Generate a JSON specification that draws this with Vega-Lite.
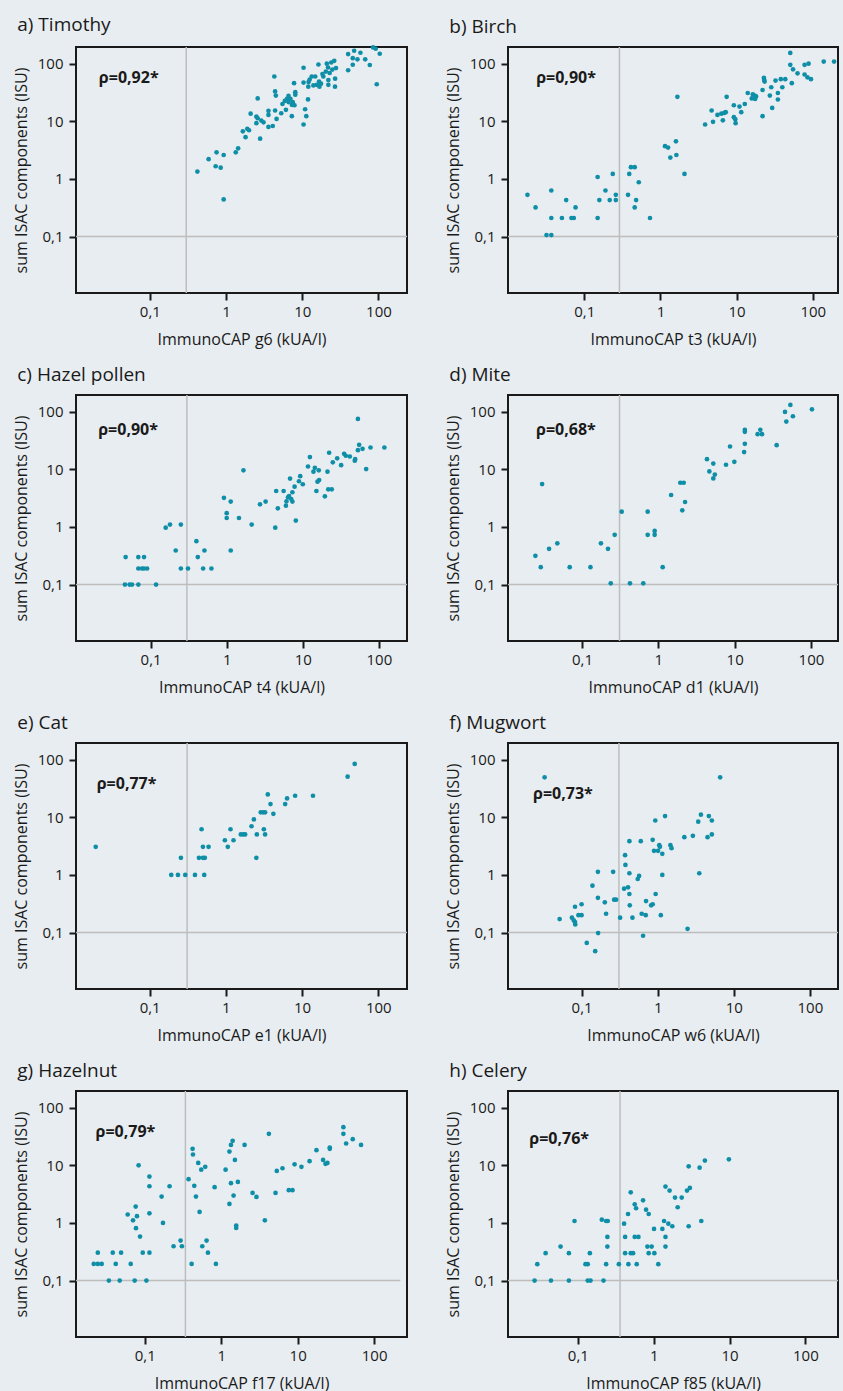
{
  "$schema": "https://vega.github.io/schema/vega-lite/v6.json",
  "background": "#e8edf1",
  "padding": {"left": 12, "top": 15, "right": 5, "bottom": 5},
  "columns": 2,
  "spacing": {"column": 35, "row": 16},
  "config": {
    "font": "Open Sans",
    "view": {"stroke": "#1a1a1a", "strokeWidth": 2, "fill": null},
    "axis": {
      "grid": false, "domain": false, "tickColor": "#1a1a1a", "tickSize": 7, "tickWidth": 2,
      "labelFont": "Open Sans", "labelFontSize": 15, "labelColor": "#1a1a1a",
      "titleFont": "Open Sans", "titleFontSize": 16, "titleFontWeight": "normal", "titleColor": "#1a1a1a",
      "labelOverlap": false, "labelFlush": false
    },
    "axisX": {"labelPadding": 4, "titlePadding": 12},
    "axisY": {"labelPadding": 6, "titlePadding": 8},
    "title": {"anchor": "start", "frame": "bounds", "fontSize": 19, "fontWeight": "normal", "color": "#1a1a1a", "baseline": "alphabetic", "offset": 9.7, "dx": 4, "font": "Open Sans"},
    "circle": {"color": "#0e8fa7", "opacity": 1, "size": 22},
    "rule": {"color": "#bdbdbd", "strokeWidth": 1.5},
    "text": {"font": "Open Sans", "fontSize": 16, "fontWeight": "bold", "color": "#1a1a1a", "align": "left", "baseline": "middle"}
  },
  "datasets": {
    "a": [{"cap":0.42,"isac":1.34},{"cap":0.59,"isac":2.2},{"cap":0.75,"isac":2.9},{"cap":0.73,"isac":1.66},{"cap":0.85,"isac":1.57},{"cap":0.93,"isac":2.6},{"cap":0.93,"isac":0.44},{"cap":1.34,"isac":2.9},{"cap":1.44,"isac":3.4},{"cap":1.66,"isac":6.7},{"cap":1.8,"isac":5.3},{"cap":1.9,"isac":7.4},{"cap":2.0,"isac":7.0},{"cap":2.1,"isac":13.6},{"cap":2.5,"isac":9.3},{"cap":2.5,"isac":12.1},{"cap":2.6,"isac":25},{"cap":2.6,"isac":11.3},{"cap":2.8,"isac":5.0},{"cap":2.9,"isac":10.3},{"cap":3.1,"isac":9.6},{"cap":3.6,"isac":15.2},{"cap":3.6,"isac":12.9},{"cap":3.6,"isac":8.0},{"cap":4.1,"isac":8.3},{"cap":4.3,"isac":60},{"cap":4.4,"isac":33},{"cap":4.5,"isac":28},{"cap":4.4,"isac":15.4},{"cap":4.6,"isac":11},{"cap":5.3,"isac":13.8},{"cap":5.5,"isac":20},{"cap":5.9,"isac":22.6},{"cap":6.3,"isac":24.5},{"cap":6.6,"isac":27.6},{"cap":6.6,"isac":21.6},{"cap":6.1,"isac":15.8},{"cap":7.0,"isac":24.5},{"cap":7.3,"isac":19.3},{"cap":7.3,"isac":12.3},{"cap":7.5,"isac":21.5},{"cap":7.8,"isac":46},{"cap":8.1,"isac":32},{"cap":8.1,"isac":29},{"cap":7.9,"isac":19},{"cap":10.4,"isac":85},{"cap":10.4,"isac":47},{"cap":10.4,"isac":8.8},{"cap":10.9,"isac":16.2},{"cap":11.3,"isac":12.3},{"cap":11.9,"isac":24},{"cap":12,"isac":40},{"cap":12.1,"isac":48},{"cap":12.5,"isac":53},{"cap":13.3,"isac":60},{"cap":14,"isac":42},{"cap":14.8,"isac":60},{"cap":15.5,"isac":43},{"cap":16.3,"isac":97},{"cap":16.6,"isac":49},{"cap":16.8,"isac":40},{"cap":17.6,"isac":45},{"cap":18.4,"isac":66},{"cap":18.9,"isac":60},{"cap":20.4,"isac":73},{"cap":21,"isac":100},{"cap":21.8,"isac":86},{"cap":22,"isac":52},{"cap":22,"isac":43},{"cap":22.9,"isac":69},{"cap":24,"isac":105},{"cap":24.8,"isac":79},{"cap":26.3,"isac":112},{"cap":26.9,"isac":40},{"cap":27,"isac":55},{"cap":27.7,"isac":84},{"cap":40,"isac":77},{"cap":40,"isac":147},{"cap":46,"isac":125},{"cap":48,"isac":168},{"cap":46,"isac":96},{"cap":53,"isac":119},{"cap":58,"isac":155},{"cap":67,"isac":119},{"cap":77,"isac":95},{"cap":85,"isac":192},{"cap":92,"isac":182},{"cap":95,"isac":44},{"cap":104,"isac":149}],
    "b": [{"cap":0.018,"isac":0.53},{"cap":0.023,"isac":0.32},{"cap":0.032,"isac":0.106},{"cap":0.037,"isac":0.106},{"cap":0.037,"isac":0.63},{"cap":0.037,"isac":0.21},{"cap":0.051,"isac":0.21},{"cap":0.058,"isac":0.43},{"cap":0.068,"isac":0.21},{"cap":0.073,"isac":0.21},{"cap":0.077,"isac":0.32},{"cap":0.15,"isac":1.08},{"cap":0.15,"isac":0.21},{"cap":0.158,"isac":0.43},{"cap":0.19,"isac":0.63},{"cap":0.216,"isac":0.43},{"cap":0.237,"isac":1.22},{"cap":0.26,"isac":0.53},{"cap":0.26,"isac":0.43},{"cap":0.376,"isac":0.53},{"cap":0.39,"isac":1.22},{"cap":0.41,"isac":1.6},{"cap":0.46,"isac":1.6},{"cap":0.46,"isac":0.32},{"cap":0.48,"isac":0.43},{"cap":0.52,"isac":0.875},{"cap":0.73,"isac":0.21},{"cap":1.15,"isac":3.7},{"cap":1.26,"isac":3.5},{"cap":1.35,"isac":2.35},{"cap":1.6,"isac":4.5},{"cap":1.62,"isac":2.6},{"cap":1.67,"isac":26.6},{"cap":2.07,"isac":1.22},{"cap":3.86,"isac":8.8},{"cap":4.7,"isac":15.4},{"cap":4.9,"isac":9.8},{"cap":5.6,"isac":12.9},{"cap":6.3,"isac":13.6},{"cap":6.6,"isac":10.4},{"cap":6.9,"isac":14},{"cap":7.2,"isac":14.4},{"cap":7.4,"isac":26.6},{"cap":9.2,"isac":19},{"cap":9.2,"isac":11.8},{"cap":9.6,"isac":10.9},{"cap":9.7,"isac":9.3},{"cap":10.9,"isac":18},{"cap":11.5,"isac":14.4},{"cap":12.8,"isac":20},{"cap":14,"isac":31},{"cap":15.8,"isac":25},{"cap":16.3,"isac":29.5},{"cap":17.2,"isac":28},{"cap":17.5,"isac":24.5},{"cap":18,"isac":27},{"cap":21.9,"isac":35},{"cap":21.9,"isac":12.3},{"cap":22.8,"isac":57},{"cap":23,"isac":52.5},{"cap":23.3,"isac":49},{"cap":27.3,"isac":28},{"cap":28.5,"isac":39},{"cap":29.3,"isac":17.1},{"cap":32.4,"isac":51},{"cap":34.8,"isac":31},{"cap":34.8,"isac":23.9},{"cap":38,"isac":54},{"cap":39.8,"isac":39},{"cap":43.5,"isac":54},{"cap":50.6,"isac":154},{"cap":50.6,"isac":95.5},{"cap":53,"isac":46},{"cap":55,"isac":80},{"cap":63,"isac":68},{"cap":78,"isac":65},{"cap":78,"isac":95.5},{"cap":85,"isac":58},{"cap":88,"isac":100},{"cap":94.5,"isac":54},{"cap":139,"isac":109},{"cap":190,"isac":109}],
    "c": [{"cap":0.046,"isac":0.1},{"cap":0.047,"isac":0.3},{"cap":0.053,"isac":0.1},{"cap":0.057,"isac":0.1},{"cap":0.069,"isac":0.1},{"cap":0.069,"isac":0.3},{"cap":0.069,"isac":0.19},{"cap":0.077,"isac":0.19},{"cap":0.082,"isac":0.3},{"cap":0.082,"isac":0.19},{"cap":0.09,"isac":0.19},{"cap":0.118,"isac":0.1},{"cap":0.158,"isac":0.97},{"cap":0.18,"isac":1.1},{"cap":0.214,"isac":0.39},{"cap":0.25,"isac":1.1},{"cap":0.25,"isac":0.19},{"cap":0.31,"isac":0.19},{"cap":0.4,"isac":0.565},{"cap":0.417,"isac":0.3},{"cap":0.49,"isac":0.19},{"cap":0.51,"isac":0.39},{"cap":0.63,"isac":0.19},{"cap":0.92,"isac":3.2},{"cap":1.0,"isac":1.73},{"cap":1.0,"isac":1.43},{"cap":1.13,"isac":2.75},{"cap":1.13,"isac":0.39},{"cap":1.45,"isac":1.43},{"cap":1.66,"isac":9.6},{"cap":2.13,"isac":1.1},{"cap":2.74,"isac":2.47},{"cap":3.25,"isac":2.75},{"cap":4.35,"isac":0.97},{"cap":4.47,"isac":4.2},{"cap":4.7,"isac":2.1},{"cap":5.6,"isac":4.2},{"cap":6.0,"isac":2.34},{"cap":6.1,"isac":2.78},{"cap":6.4,"isac":3.26},{"cap":6.6,"isac":3.44},{"cap":6.8,"isac":6.9},{"cap":7.05,"isac":3.05},{"cap":7.3,"isac":4.0},{"cap":7.3,"isac":2.75},{"cap":7.8,"isac":5.0},{"cap":8.1,"isac":1.29},{"cap":8.9,"isac":6.2},{"cap":9.25,"isac":7.6},{"cap":10,"isac":5.5},{"cap":11.7,"isac":11.2},{"cap":12.4,"isac":16.3},{"cap":13.8,"isac":9.1},{"cap":14.4,"isac":10.6},{"cap":15.1,"isac":4.2},{"cap":15.6,"isac":6.1},{"cap":16.4,"isac":6.5},{"cap":16.2,"isac":9.6},{"cap":19.5,"isac":3.4},{"cap":21.1,"isac":9.1},{"cap":22.2,"isac":19.4},{"cap":21.6,"isac":4.5},{"cap":24,"isac":4.5},{"cap":24.8,"isac":13.2},{"cap":28.3,"isac":15.5},{"cap":31.9,"isac":11.8},{"cap":34.9,"isac":18.6},{"cap":36.7,"isac":17.2},{"cap":41.5,"isac":16.7},{"cap":48.2,"isac":14.1},{"cap":48.8,"isac":15},{"cap":53,"isac":75},{"cap":53,"isac":21.5},{"cap":55,"isac":26.6},{"cap":61,"isac":22.7},{"cap":68,"isac":10.1},{"cap":77.6,"isac":23.9},{"cap":118,"isac":23.9}],
    "d": [{"cap":0.0245,"isac":0.315},{"cap":0.0288,"isac":0.2},{"cap":0.03,"isac":5.55},{"cap":0.037,"isac":0.416},{"cap":0.0475,"isac":0.52},{"cap":0.069,"isac":0.2},{"cap":0.129,"isac":0.2},{"cap":0.177,"isac":0.52},{"cap":0.219,"isac":0.416},{"cap":0.238,"isac":0.105},{"cap":0.268,"isac":0.73},{"cap":0.331,"isac":1.84},{"cap":0.425,"isac":0.105},{"cap":0.635,"isac":0.105},{"cap":0.725,"isac":1.84},{"cap":0.725,"isac":0.73},{"cap":0.895,"isac":0.853},{"cap":0.895,"isac":0.73},{"cap":1.14,"isac":0.2},{"cap":1.47,"isac":3.58},{"cap":1.94,"isac":5.85},{"cap":2.06,"isac":1.94},{"cap":2.15,"isac":5.85},{"cap":2.24,"isac":2.71},{"cap":4.34,"isac":15},{"cap":4.66,"isac":9.2},{"cap":5.25,"isac":12.6},{"cap":5.25,"isac":6.95},{"cap":5.5,"isac":8.1},{"cap":7.7,"isac":12},{"cap":8.7,"isac":24.9},{"cap":9.9,"isac":13.5},{"cap":13.3,"isac":19.9},{"cap":13.6,"isac":27.7},{"cap":13.6,"isac":48.4},{"cap":13.6,"isac":44.7},{"cap":20,"isac":40.7},{"cap":21.7,"isac":48.4},{"cap":22.8,"isac":40.7},{"cap":35.5,"isac":26.3},{"cap":45.7,"isac":99},{"cap":47.5,"isac":67.5},{"cap":53.7,"isac":131},{"cap":58,"isac":83.5},{"cap":103,"isac":110}],
    "e": [{"cap":0.0196,"isac":3.07},{"cap":0.192,"isac":1.0},{"cap":0.235,"isac":1.0},{"cap":0.257,"isac":1.98},{"cap":0.293,"isac":1.0},{"cap":0.393,"isac":1.0},{"cap":0.443,"isac":1.98},{"cap":0.48,"isac":6.2},{"cap":0.5,"isac":3.07},{"cap":0.5,"isac":1.98},{"cap":0.53,"isac":1.98},{"cap":0.52,"isac":1.0},{"cap":0.593,"isac":3.07},{"cap":0.97,"isac":4.0},{"cap":1.06,"isac":3.07},{"cap":1.15,"isac":6.2},{"cap":1.26,"isac":4.0},{"cap":1.57,"isac":5.04},{"cap":1.69,"isac":5.04},{"cap":1.79,"isac":5.04},{"cap":2.17,"isac":7.0},{"cap":2.33,"isac":9.2},{"cap":2.51,"isac":1.98},{"cap":2.55,"isac":5.04},{"cap":2.87,"isac":12.2},{"cap":3.08,"isac":12.2},{"cap":3.15,"isac":6.2},{"cap":3.27,"isac":5.04},{"cap":3.27,"isac":12.2},{"cap":3.55,"isac":25},{"cap":3.85,"isac":17},{"cap":4.2,"isac":11.5},{"cap":6.0,"isac":17},{"cap":6.35,"isac":21.3},{"cap":8.1,"isac":23.7},{"cap":13.9,"isac":23.7},{"cap":39.6,"isac":50.8},{"cap":49,"isac":84.5}],
    "f": [{"cap":0.0327,"isac":49.5},{"cap":0.0515,"isac":0.171},{"cap":0.0747,"isac":0.181},{"cap":0.079,"isac":0.162},{"cap":0.082,"isac":0.28},{"cap":0.0826,"isac":0.138},{"cap":0.082,"isac":0.152},{"cap":0.091,"isac":0.2},{"cap":0.1,"isac":0.31},{"cap":0.1,"isac":0.2},{"cap":0.117,"isac":0.066},{"cap":0.139,"isac":0.65},{"cap":0.151,"isac":0.0475},{"cap":0.164,"isac":1.13},{"cap":0.164,"isac":0.4},{"cap":0.165,"isac":0.098},{"cap":0.202,"isac":0.334},{"cap":0.21,"isac":0.212},{"cap":0.26,"isac":1.13},{"cap":0.268,"isac":0.372},{"cap":0.284,"isac":0.372},{"cap":0.321,"isac":0.181},{"cap":0.373,"isac":2.2},{"cap":0.377,"isac":1.49},{"cap":0.362,"isac":0.578},{"cap":0.408,"isac":0.61},{"cap":0.425,"isac":1.07},{"cap":0.425,"isac":3.86},{"cap":0.425,"isac":0.467},{"cap":0.43,"isac":0.297},{"cap":0.466,"isac":0.181},{"cap":0.547,"isac":0.85},{"cap":0.57,"isac":0.96},{"cap":0.6,"isac":3.86},{"cap":0.617,"isac":0.212},{"cap":0.643,"isac":0.088},{"cap":0.697,"isac":0.2},{"cap":0.703,"isac":0.352},{"cap":0.82,"isac":0.297},{"cap":0.86,"isac":4.07},{"cap":0.86,"isac":0.31},{"cap":0.895,"isac":2.62},{"cap":0.93,"isac":8.8},{"cap":0.94,"isac":0.467},{"cap":1.01,"isac":2.62},{"cap":1.05,"isac":3.29},{"cap":1.07,"isac":3.07},{"cap":1.1,"isac":0.2},{"cap":1.15,"isac":2.32},{"cap":1.15,"isac":1.0},{"cap":1.25,"isac":10.5},{"cap":1.47,"isac":3.29},{"cap":1.52,"isac":2.91},{"cap":2.24,"isac":4.53},{"cap":2.47,"isac":0.116},{"cap":2.9,"isac":4.77},{"cap":3.41,"isac":8.4},{"cap":3.52,"isac":1.07},{"cap":3.7,"isac":11.1},{"cap":4.52,"isac":4.53},{"cap":4.7,"isac":10.5},{"cap":5.15,"isac":8.8},{"cap":5.15,"isac":5.04},{"cap":6.62,"isac":49.5}],
    "g": [{"cap":0.0215,"isac":0.194},{"cap":0.0243,"isac":0.305},{"cap":0.0243,"isac":0.194},{"cap":0.0273,"isac":0.194},{"cap":0.0339,"isac":0.1},{"cap":0.0381,"isac":0.305},{"cap":0.0417,"isac":0.194},{"cap":0.047,"isac":0.1},{"cap":0.049,"isac":0.305},{"cap":0.0598,"isac":1.4},{"cap":0.0655,"isac":0.194},{"cap":0.0702,"isac":1.11},{"cap":0.0738,"isac":0.1},{"cap":0.076,"isac":1.92},{"cap":0.0767,"isac":0.81},{"cap":0.079,"isac":1.31},{"cap":0.083,"isac":10},{"cap":0.0867,"isac":0.58},{"cap":0.094,"isac":0.305},{"cap":0.105,"isac":0.1},{"cap":0.115,"isac":6.38},{"cap":0.115,"isac":4.33},{"cap":0.115,"isac":1.47},{"cap":0.115,"isac":0.305},{"cap":0.166,"isac":2.87},{"cap":0.173,"isac":1.0},{"cap":0.211,"isac":4.33},{"cap":0.238,"isac":0.394},{"cap":0.294,"isac":0.493},{"cap":0.306,"isac":0.394},{"cap":0.374,"isac":5.74},{"cap":0.41,"isac":0.194},{"cap":0.422,"isac":19.3},{"cap":0.427,"isac":15.4},{"cap":0.444,"isac":4.4},{"cap":0.467,"isac":2.87},{"cap":0.5,"isac":11},{"cap":0.521,"isac":1.55},{"cap":0.548,"isac":8.4},{"cap":0.565,"isac":0.394},{"cap":0.618,"isac":9.4},{"cap":0.643,"isac":0.493},{"cap":0.67,"isac":0.305},{"cap":0.819,"isac":4.17},{"cap":0.852,"isac":0.194},{"cap":1.14,"isac":8.4},{"cap":1.28,"isac":2.14},{"cap":1.28,"isac":17.3},{"cap":1.34,"isac":4.89},{"cap":1.34,"isac":22.6},{"cap":1.41,"isac":26.6},{"cap":1.45,"isac":2.98},{"cap":1.51,"isac":12.4},{"cap":1.57,"isac":0.9},{"cap":1.57,"isac":0.82},{"cap":1.65,"isac":5.15},{"cap":2.02,"isac":22.6},{"cap":2.57,"isac":3.32},{"cap":2.89,"isac":2.83},{"cap":3.72,"isac":1.11},{"cap":4.2,"isac":35.2},{"cap":5.13,"isac":3.32},{"cap":5.33,"isac":8.0},{"cap":6.33,"isac":8.9},{"cap":7.65,"isac":3.7},{"cap":8.55,"isac":3.7},{"cap":9.1,"isac":10.4},{"cap":11.2,"isac":9.4},{"cap":14.3,"isac":11.8},{"cap":17.6,"isac":18.3},{"cap":21.5,"isac":12.4},{"cap":23.1,"isac":10.6},{"cap":24.5,"isac":11},{"cap":26.3,"isac":20.4},{"cap":26.3,"isac":19.3},{"cap":39.6,"isac":46},{"cap":39.6,"isac":35.2},{"cap":43,"isac":23.9},{"cap":52.5,"isac":28.4},{"cap":67.4,"isac":22.6}],
    "h": [{"cap":0.0269,"isac":0.1},{"cap":0.0292,"isac":0.192},{"cap":0.0376,"isac":0.298},{"cap":0.0442,"isac":0.1},{"cap":0.0592,"isac":0.389},{"cap":0.0762,"isac":0.298},{"cap":0.0762,"isac":0.1},{"cap":0.0904,"isac":1.08},{"cap":0.126,"isac":0.192},{"cap":0.135,"isac":0.192},{"cap":0.135,"isac":0.1},{"cap":0.144,"isac":0.298},{"cap":0.147,"isac":0.1},{"cap":0.207,"isac":1.14},{"cap":0.218,"isac":0.1},{"cap":0.236,"isac":0.192},{"cap":0.236,"isac":1.08},{"cap":0.248,"isac":1.08},{"cap":0.245,"isac":0.572},{"cap":0.245,"isac":0.389},{"cap":0.347,"isac":0.192},{"cap":0.407,"isac":0.97},{"cap":0.42,"isac":0.572},{"cap":0.42,"isac":0.298},{"cap":0.459,"isac":1.43},{"cap":0.464,"isac":0.192},{"cap":0.498,"isac":3.4},{"cap":0.498,"isac":0.298},{"cap":0.535,"isac":0.298},{"cap":0.562,"isac":2.1},{"cap":0.562,"isac":0.572},{"cap":0.586,"isac":1.8},{"cap":0.597,"isac":0.192},{"cap":0.629,"isac":0.572},{"cap":0.724,"isac":2.47},{"cap":0.793,"isac":1.7},{"cap":0.826,"isac":0.389},{"cap":0.859,"isac":1.43},{"cap":0.859,"isac":0.298},{"cap":0.94,"isac":0.389},{"cap":1.01,"isac":0.787},{"cap":1.02,"isac":0.298},{"cap":1.15,"isac":0.192},{"cap":1.3,"isac":0.787},{"cap":1.37,"isac":1.08},{"cap":1.43,"isac":4.27},{"cap":1.43,"isac":0.572},{"cap":1.43,"isac":0.389},{"cap":1.56,"isac":0.97},{"cap":1.62,"isac":3.64},{"cap":1.76,"isac":0.875},{"cap":1.91,"isac":2.75},{"cap":2.07,"isac":1.87},{"cap":2.34,"isac":2.75},{"cap":2.75,"isac":3.64},{"cap":2.89,"isac":9.6},{"cap":2.89,"isac":0.875},{"cap":3.0,"isac":4.05},{"cap":4.03,"isac":9.1},{"cap":4.24,"isac":1.08},{"cap":4.73,"isac":12.1},{"cap":9.8,"isac":12.7}]
  },
  "concat": [
    {
      "title": "a) Timothy", "width": 331, "height": 246,
      "layer": [
        {"data": {"values": [{"cutoff": 0.30}]}, "mark": "rule", "encoding": {"x": {"field": "cutoff", "type": "quantitative"}}},
        {"data": {"values": [{"cutoff": 0.1}]}, "mark": "rule", "encoding": {"y": {"field": "cutoff", "type": "quantitative"}}},
        {"data": {"name": "a"}, "mark": "circle",
         "encoding": {
           "x": {"field": "cap", "type": "quantitative", "scale": {"type": "log", "domain": [0.01072, 237], "nice": false}, "axis": {"title": "ImmunoCAP g6 (kUA/l)", "values": [0.1, 1, 10, 100], "labelExpr": "replace(format(datum.value, '~g'), '.', ',')"}},
           "y": {"field": "isac", "type": "quantitative", "scale": {"type": "log", "domain": [0.01047, 195], "nice": false}, "axis": {"title": "sum ISAC components (ISU)", "values": [0.1, 1, 10, 100], "labelExpr": "replace(format(datum.value, '~g'), '.', ',')"}}
         }},
        {"data": {"values": [{"rho": "ρ=0,92*"}]}, "mark": "text", "encoding": {"x": {"datum": 0.0214, "type": "quantitative"}, "y": {"datum": 57, "type": "quantitative"}, "text": {"field": "rho"}}}
      ]
    },
    {
      "title": "b) Birch", "width": 330, "height": 246,
      "layer": [
        {"data": {"values": [{"cutoff": 0.29}]}, "mark": "rule", "encoding": {"x": {"field": "cutoff", "type": "quantitative"}}},
        {"data": {"values": [{"cutoff": 0.1}]}, "mark": "rule", "encoding": {"y": {"field": "cutoff", "type": "quantitative"}}},
        {"data": {"name": "b"}, "mark": "circle",
         "encoding": {
           "x": {"field": "cap", "type": "quantitative", "scale": {"type": "log", "domain": [0.01, 214], "nice": false}, "axis": {"title": "ImmunoCAP t3 (kUA/l)", "values": [0.1, 1, 10, 100], "labelExpr": "replace(format(datum.value, '~g'), '.', ',')"}},
           "y": {"field": "isac", "type": "quantitative", "scale": {"type": "log", "domain": [0.01047, 195], "nice": false}, "axis": {"title": "sum ISAC components (ISU)", "values": [0.1, 1, 10, 100], "labelExpr": "replace(format(datum.value, '~g'), '.', ',')"}}
         }},
        {"data": {"values": [{"rho": "ρ=0,90*"}]}, "mark": "text", "encoding": {"x": {"datum": 0.0234, "type": "quantitative"}, "y": {"datum": 57, "type": "quantitative"}, "text": {"field": "rho"}}}
      ]
    },
    {
      "title": "c) Hazel pollen", "width": 331, "height": 246,
      "layer": [
        {"data": {"values": [{"cutoff": 0.30}]}, "mark": "rule", "encoding": {"x": {"field": "cutoff", "type": "quantitative"}}},
        {"data": {"values": [{"cutoff": 0.1}]}, "mark": "rule", "encoding": {"y": {"field": "cutoff", "type": "quantitative"}}},
        {"data": {"name": "c"}, "mark": "circle",
         "encoding": {
           "x": {"field": "cap", "type": "quantitative", "scale": {"type": "log", "domain": [0.01047, 234], "nice": false}, "axis": {"title": "ImmunoCAP t4 (kUA/l)", "values": [0.1, 1, 10, 100], "labelExpr": "replace(format(datum.value, '~g'), '.', ',')"}},
           "y": {"field": "isac", "type": "quantitative", "scale": {"type": "log", "domain": [0.01047, 195], "nice": false}, "axis": {"title": "sum ISAC components (ISU)", "values": [0.1, 1, 10, 100], "labelExpr": "replace(format(datum.value, '~g'), '.', ',')"}}
         }},
        {"data": {"values": [{"rho": "ρ=0,90*"}]}, "mark": "text", "encoding": {"x": {"datum": 0.0205, "type": "quantitative"}, "y": {"datum": 48, "type": "quantitative"}, "text": {"field": "rho"}}}
      ]
    },
    {
      "title": "d) Mite", "width": 330, "height": 246,
      "layer": [
        {"data": {"values": [{"cutoff": 0.31}]}, "mark": "rule", "encoding": {"x": {"field": "cutoff", "type": "quantitative"}}},
        {"data": {"values": [{"cutoff": 0.1}]}, "mark": "rule", "encoding": {"y": {"field": "cutoff", "type": "quantitative"}}},
        {"data": {"name": "d"}, "mark": "circle",
         "encoding": {
           "x": {"field": "cap", "type": "quantitative", "scale": {"type": "log", "domain": [0.01072, 226], "nice": false}, "axis": {"title": "ImmunoCAP d1 (kUA/l)", "values": [0.1, 1, 10, 100], "labelExpr": "replace(format(datum.value, '~g'), '.', ',')"}},
           "y": {"field": "isac", "type": "quantitative", "scale": {"type": "log", "domain": [0.01047, 195], "nice": false}, "axis": {"title": "sum ISAC components (ISU)", "values": [0.1, 1, 10, 100], "labelExpr": "replace(format(datum.value, '~g'), '.', ',')"}}
         }},
        {"data": {"values": [{"rho": "ρ=0,68*"}]}, "mark": "text", "encoding": {"x": {"datum": 0.025, "type": "quantitative"}, "y": {"datum": 48, "type": "quantitative"}, "text": {"field": "rho"}}}
      ]
    },
    {
      "title": "e) Cat", "width": 331, "height": 246,
      "layer": [
        {"data": {"values": [{"cutoff": 0.31}]}, "mark": "rule", "encoding": {"x": {"field": "cutoff", "type": "quantitative"}}},
        {"data": {"values": [{"cutoff": 0.1}]}, "mark": "rule", "encoding": {"y": {"field": "cutoff", "type": "quantitative"}}},
        {"data": {"name": "e"}, "mark": "circle",
         "encoding": {
           "x": {"field": "cap", "type": "quantitative", "scale": {"type": "log", "domain": [0.0108, 238], "nice": false}, "axis": {"title": "ImmunoCAP e1 (kUA/l)", "values": [0.1, 1, 10, 100], "labelExpr": "replace(format(datum.value, '~g'), '.', ',')"}},
           "y": {"field": "isac", "type": "quantitative", "scale": {"type": "log", "domain": [0.01047, 195], "nice": false}, "axis": {"title": "sum ISAC components (ISU)", "values": [0.1, 1, 10, 100], "labelExpr": "replace(format(datum.value, '~g'), '.', ',')"}}
         }},
        {"data": {"values": [{"rho": "ρ=0,77*"}]}, "mark": "text", "encoding": {"x": {"datum": 0.0202, "type": "quantitative"}, "y": {"datum": 38.3, "type": "quantitative"}, "text": {"field": "rho"}}}
      ]
    },
    {
      "title": "f) Mugwort", "width": 330, "height": 246,
      "layer": [
        {"data": {"values": [{"cutoff": 0.31}]}, "mark": "rule", "encoding": {"x": {"field": "cutoff", "type": "quantitative"}}},
        {"data": {"values": [{"cutoff": 0.1}]}, "mark": "rule", "encoding": {"y": {"field": "cutoff", "type": "quantitative"}}},
        {"data": {"name": "f"}, "mark": "circle",
         "encoding": {
           "x": {"field": "cap", "type": "quantitative", "scale": {"type": "log", "domain": [0.0108, 234], "nice": false}, "axis": {"title": "ImmunoCAP w6 (kUA/l)", "values": [0.1, 1, 10, 100], "labelExpr": "replace(format(datum.value, '~g'), '.', ',')"}},
           "y": {"field": "isac", "type": "quantitative", "scale": {"type": "log", "domain": [0.01047, 195], "nice": false}, "axis": {"title": "sum ISAC components (ISU)", "values": [0.1, 1, 10, 100], "labelExpr": "replace(format(datum.value, '~g'), '.', ',')"}}
         }},
        {"data": {"values": [{"rho": "ρ=0,73*"}]}, "mark": "text", "encoding": {"x": {"datum": 0.023, "type": "quantitative"}, "y": {"datum": 25.2, "type": "quantitative"}, "text": {"field": "rho"}}}
      ]
    },
    {
      "title": "g) Hazelnut", "width": 331, "height": 246,
      "layer": [
        {"data": {"values": [{"cutoff": 0.34}]}, "mark": "rule", "encoding": {"x": {"field": "cutoff", "type": "quantitative"}}},
        {"data": {"values": [{"cutoff": 0.1, "from": 0.0126, "to": 220}]}, "mark": "rule", "encoding": {"y": {"field": "cutoff", "type": "quantitative"}, "x": {"field": "from", "type": "quantitative"}, "x2": {"field": "to"}}},
        {"data": {"name": "g"}, "mark": "circle",
         "encoding": {
           "x": {"field": "cap", "type": "quantitative", "scale": {"type": "log", "domain": [0.0126, 269], "nice": false}, "axis": {"title": "ImmunoCAP f17 (kUA/l)", "values": [0.1, 1, 10, 100], "labelExpr": "replace(format(datum.value, '~g'), '.', ',')"}},
           "y": {"field": "isac", "type": "quantitative", "scale": {"type": "log", "domain": [0.01047, 195], "nice": false}, "axis": {"title": "sum ISAC components (ISU)", "values": [0.1, 1, 10, 100], "labelExpr": "replace(format(datum.value, '~g'), '.', ',')"}}
         }},
        {"data": {"values": [{"rho": "ρ=0,79*"}]}, "mark": "text", "encoding": {"x": {"datum": 0.0227, "type": "quantitative"}, "y": {"datum": 37.7, "type": "quantitative"}, "text": {"field": "rho"}}}
      ]
    },
    {
      "title": "h) Celery", "width": 330, "height": 246,
      "layer": [
        {"data": {"values": [{"cutoff": 0.36}]}, "mark": "rule", "encoding": {"x": {"field": "cutoff", "type": "quantitative"}}},
        {"data": {"values": [{"cutoff": 0.1}]}, "mark": "rule", "encoding": {"y": {"field": "cutoff", "type": "quantitative"}}},
        {"data": {"name": "h"}, "mark": "circle",
         "encoding": {
           "x": {"field": "cap", "type": "quantitative", "scale": {"type": "log", "domain": [0.012, 269], "nice": false}, "axis": {"title": "ImmunoCAP f85 (kUA/l)", "values": [0.1, 1, 10, 100], "labelExpr": "replace(format(datum.value, '~g'), '.', ',')"}},
           "y": {"field": "isac", "type": "quantitative", "scale": {"type": "log", "domain": [0.01047, 195], "nice": false}, "axis": {"title": "sum ISAC components (ISU)", "values": [0.1, 1, 10, 100], "labelExpr": "replace(format(datum.value, '~g'), '.', ',')"}}
         }},
        {"data": {"values": [{"rho": "ρ=0,76*"}]}, "mark": "text", "encoding": {"x": {"datum": 0.0229, "type": "quantitative"}, "y": {"datum": 29, "type": "quantitative"}, "text": {"field": "rho"}}}
      ]
    }
  ]
}
